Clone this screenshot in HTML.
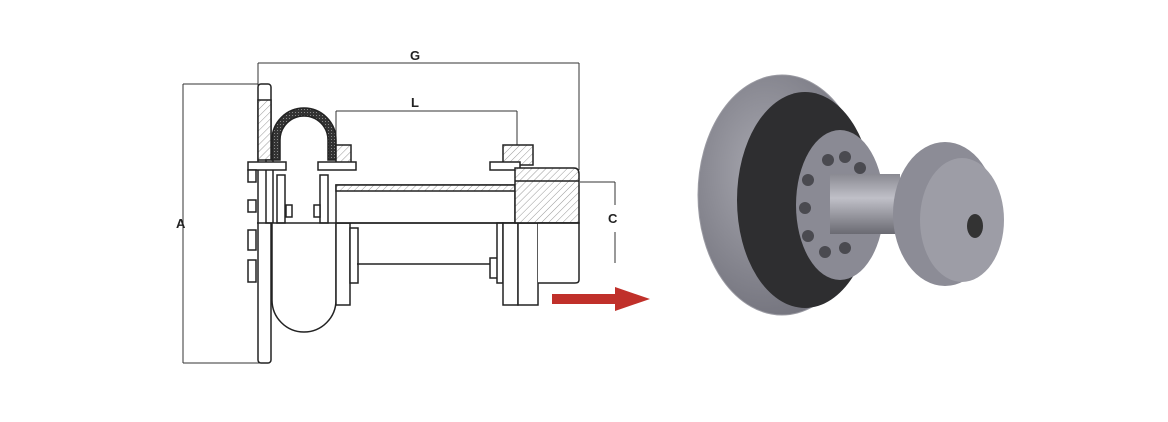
<!DOCTYPE html>
<html><head><meta charset="utf-8"><style>
html,body{margin:0;padding:0;background:#fff;}
svg{display:block;}
text{font-family:"Liberation Sans",sans-serif;font-weight:bold;fill:#222;font-size:13px;}
</style></head><body>
<svg width="1168" height="422" viewBox="0 0 1168 422" xmlns="http://www.w3.org/2000/svg">
<defs>
<pattern id="h" width="5" height="5" patternUnits="userSpaceOnUse" patternTransform="rotate(45)">
<rect width="5" height="5" fill="#fff"/><line x1="0" y1="0" x2="0" y2="5" stroke="#999" stroke-width="1"/></pattern>
<pattern id="r" width="3" height="3" patternUnits="userSpaceOnUse"><rect width="3" height="3" fill="#333"/><rect x="1" y="1" width="1" height="1" fill="#888"/></pattern>
<radialGradient id="gf" cx="0.4" cy="0.4" r="0.7"><stop offset="0" stop-color="#a8a8b0"/><stop offset="1" stop-color="#6e6e78"/></radialGradient>
<linearGradient id="gs" x1="0" y1="0" x2="0" y2="1"><stop offset="0" stop-color="#8a8a92"/><stop offset="0.4" stop-color="#c0c0c8"/><stop offset="1" stop-color="#6a6a72"/></linearGradient>
</defs>
<g stroke="#333" stroke-width="1" fill="none">
<!-- dimension lines -->
<line x1="258" y1="63" x2="579" y2="63"/>
<line x1="258" y1="63" x2="258" y2="88"/>
<line x1="579" y1="63" x2="579" y2="170"/>
<line x1="183" y1="84" x2="258" y2="84"/>
<line x1="183" y1="363" x2="260" y2="363"/>
<line x1="183" y1="84" x2="183" y2="363"/>
<line x1="336" y1="111" x2="517" y2="111"/>
<line x1="336" y1="111" x2="336" y2="140"/>
<line x1="517" y1="111" x2="517" y2="145"/>
<line x1="580" y1="182" x2="615" y2="182"/>
<line x1="615" y1="182" x2="615" y2="205"/>
<line x1="615" y1="232" x2="615" y2="263"/>
</g>
<text x="410" y="60">G</text>
<text x="411" y="107">L</text>
<text x="176" y="228">A</text>
<text x="608" y="223">C</text>
<g stroke="#222" stroke-width="1.5">
<!-- left plate -->
<rect x="258" y="84" width="13" height="279" rx="3" fill="#fff"/>
<rect x="258" y="100" width="13" height="60" fill="url(#h)"/>
<rect x="266" y="160" width="7" height="63" fill="#fff"/>
<!-- rubber U top -->
<path d="M272 160 L272 140 A32 32 0 0 1 336 140 L336 160 L328 160 L328 140 A24 24 0 0 0 280 140 L280 160 Z" fill="url(#r)"/>
<!-- lower U -->
<path d="M272 223 L272 300 A32 32 0 0 0 336 300 L336 223" fill="#fff"/>
<rect x="277" y="175" width="8" height="48" fill="#fff"/>
<rect x="320" y="175" width="8" height="48" fill="#fff"/>
<rect x="336" y="145" width="15" height="20" fill="url(#h)"/>
<!-- bolts -->
<rect x="248" y="162" width="38" height="8" fill="#fff"/>
<rect x="318" y="162" width="38" height="8" fill="#fff"/>
<rect x="248" y="170" width="8" height="12" fill="#fff"/>
<rect x="248" y="200" width="8" height="12" fill="#fff"/>
<rect x="248" y="230" width="8" height="20" fill="#fff"/>
<rect x="248" y="260" width="8" height="22" fill="#fff"/>
<rect x="286" y="205" width="6" height="12" fill="#fff"/>
<rect x="314" y="205" width="6" height="12" fill="#fff"/>
<!-- right plate of U -->
<rect x="336" y="223" width="14" height="82" fill="#fff"/>
<rect x="350" y="228" width="8" height="55" fill="#fff"/>
<!-- shaft -->
<rect x="336" y="185" width="179" height="38" fill="#fff"/>
<rect x="336" y="185" width="179" height="6" fill="url(#h)"/>
<line x1="357" y1="264" x2="497" y2="264"/>
<rect x="490" y="258" width="10" height="20" fill="#fff"/>
<rect x="497" y="223" width="6" height="60" fill="#fff"/>
<!-- right flange -->
<rect x="503" y="145" width="30" height="20" fill="url(#h)"/>
<rect x="490" y="162" width="30" height="8" fill="#fff"/>
<rect x="503" y="223" width="15" height="82" fill="#fff"/>
<rect x="518" y="223" width="20" height="82" fill="#fff"/>
<!-- hub -->
<path d="M515 168 L574 168 Q579 168 579 174 L579 223 L515 223 Z" fill="url(#h)"/>
<line x1="515" y1="181" x2="579" y2="181"/>
<path d="M538 223 L579 223 L579 280 Q579 283 575 283 L538 283" fill="#fff"/>
</g>
<line x1="257" y1="223" x2="579" y2="223" stroke="#222" stroke-width="1.5"/>
<!-- red arrow -->
<polygon points="552,294 615,294 615,287 650,299 615,311 615,304 552,304" fill="#c0302a"/>
<!-- 3D render -->
<ellipse cx="782" cy="195" rx="84" ry="120" fill="url(#gf)" stroke="#9a9aa2"/>
<ellipse cx="805" cy="200" rx="68" ry="108" fill="#2e2e30"/>
<ellipse cx="840" cy="205" rx="44" ry="75" fill="#8a8a94"/>
<rect x="830" y="174" width="70" height="60" fill="url(#gs)"/>
<g fill="#4a4a50">
<circle cx="828" cy="160" r="6"/><circle cx="845" cy="157" r="6"/><circle cx="860" cy="168" r="6"/>
<circle cx="808" cy="180" r="6"/><circle cx="805" cy="208" r="6"/><circle cx="808" cy="236" r="6"/>
<circle cx="825" cy="252" r="6"/><circle cx="845" cy="248" r="6"/>
</g>
<ellipse cx="945" cy="214" rx="52" ry="72" fill="#8c8c96"/>
<ellipse cx="962" cy="220" rx="42" ry="62" fill="#9d9da6"/>
<ellipse cx="975" cy="226" rx="8" ry="12" fill="#333"/>
</svg>
</body></html>
